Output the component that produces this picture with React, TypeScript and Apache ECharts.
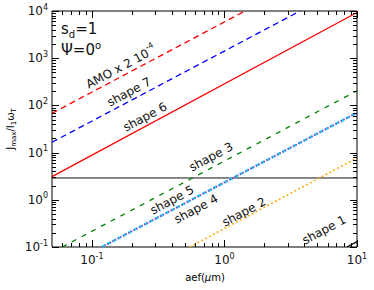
import React, { useEffect, useRef } from 'react';
import * as echarts from 'echarts';

// axis ranges
const X_MIN = 0.05;
const X_MAX = 10;
const Y_MIN = 0.1;
const Y_MAX = 10000;

// series values [aef (µm), Jmax/I1ωT]
const amoLine = [[0.05, 68], [1.43, 10000]];
const shape7Line = [[0.05, 16.6], [3.72, 10000]];
const shape6Line = [[0.05, 3.1], [10, 9300]];
const shape3Line = [[0.0596, 0.1], [10, 204]];
const shape5Line = [[0.1186, 0.1], [10, 70]];
const shape4Line = [[0.1186, 0.1], [10, 70]];
const shape2Line = [[0.546, 0.1], [10, 7.7]];
const shape1Line = [[8.4, 0.1], [10, 0.13]];
const refLevel = 2.9;
const refLine = [[X_MIN, refLevel], [X_MAX, refLevel]];

// decades for ticks
const xDecades = [0.01, 0.1, 1, 10];
const yDecades = [0.1, 1, 10, 100, 1000, 10000];
const minorMultipliers = [2, 3, 4, 5, 6, 7, 8, 9];

const FONT = 'DejaVu Sans';

function buildTicks() {
  const items: number[][] = [];
  const eps = 1e-9;
  xDecades.forEach((d) => {
    if (d >= X_MIN - eps && d <= X_MAX + eps) items.push([d, 1, 0, 1]);
    minorMultipliers.forEach((m) => {
      const v = d * m;
      if (v > X_MIN + eps && v < X_MAX - eps) items.push([v, 1, 0, 0]);
    });
  });
  yDecades.forEach((d) => {
    if (d >= Y_MIN - eps && d <= Y_MAX + eps) items.push([1, d, 1, 1]);
    minorMultipliers.forEach((m) => {
      const v = d * m;
      if (v > Y_MIN + eps && v < Y_MAX - eps) items.push([1, v, 1, 0]);
    });
  });
  return items;
}

const ANG = (28.2 * Math.PI) / 180;

function powLabel(value: number) {
  const e = Math.log10(value);
  const r = Math.round(e);
  if (Math.abs(e - r) > 1e-6) return '';
  return `{b|10}{s|${r}}`;
}

const tickRich = {
  b: { fontSize: 12, fontFamily: FONT, color: '#111', lineHeight: 16 },
  s: { fontSize: 8, fontFamily: FONT, color: '#111', verticalAlign: 'top', lineHeight: 16 },
};

function lineSeries(name: string, data: number[][], color: string, width: number, type: any, z = 2) {
  return {
    name,
    type: 'line',
    data,
    showSymbol: false,
    symbol: 'none',
    clip: true,
    z,
    lineStyle: { color, width, type },
  };
}

function rotText(text: string, x: number, y: number, rich?: any) {
  return {
    type: 'text',
    x,
    y,
    rotation: ANG,
    style: {
      text,
      fontSize: 12,
      fontFamily: FONT,
      fill: '#111',
      align: 'center',
      verticalAlign: 'middle',
      rich,
    },
  };
}

export default function App() {
  const ref = useRef<HTMLDivElement>(null);
  useEffect(() => {
    if (!ref.current) return;
    const chart = echarts.init(ref.current, undefined, { renderer: 'svg' });
    const option: any = {
      animation: false,
      backgroundColor: '#fff',
      grid: {
        left: 52,
        right: 17,
        top: 11,
        bottom: 43,
        show: true,
        borderColor: '#000',
        borderWidth: 1,
        backgroundColor: 'transparent',
      },
      xAxis: {
        type: 'log',
        logBase: 10,
        min: X_MIN,
        max: X_MAX,
        axisLine: { show: false },
        axisTick: { show: false },
        splitLine: { show: false },
        axisLabel: { formatter: powLabel, rich: tickRich, margin: 5, showMinLabel: true, showMaxLabel: true },
      },
      yAxis: {
        type: 'log',
        logBase: 10,
        min: Y_MIN,
        max: Y_MAX,
        axisLine: { show: false },
        axisTick: { show: false },
        splitLine: { show: false },
        axisLabel: { formatter: powLabel, rich: tickRich, margin: 4 },
      },
      series: [
        lineSeries('ref', refLine, '#111', 1, 'solid', 1),
        lineSeries('AMO x 2 10^-4', amoLine, '#ff0000', 1.3, [6, 4]),
        lineSeries('shape 7', shape7Line, '#0000ff', 1.3, [6, 4]),
        lineSeries('shape 6', shape6Line, '#ff0000', 1.3, 'solid'),
        lineSeries('shape 3', shape3Line, '#008000', 1.3, [5, 6]),
        lineSeries('shape 5', shape5Line, '#00e5ee', 2.5, [4, 2], 2),
        lineSeries('shape 4', shape4Line, '#cc22cc', 1.4, [1.5, 1.5], 3),
        lineSeries('shape 2', shape2Line, '#ffa500', 1.6, [1.8, 2.6]),
        lineSeries('shape 1', shape1Line, '#000000', 1.2, 'solid'),
        {
          type: 'custom',
          name: 'ticks',
          data: buildTicks(),
          clip: false,
          z: 5,
          silent: true,
          renderItem: (params: any, api: any) => {
            const cs = params.coordSys;
            const kind = api.value(2);
            const len = api.value(3) ? 7 : 4;
            const st = { stroke: '#000', lineWidth: 1 };
            if (kind === 0) {
              const px = Math.round(api.coord([api.value(0), Y_MIN])[0]) + 0.5;
              const b = cs.y + cs.height;
              return {
                type: 'group',
                children: [
                  { type: 'line', shape: { x1: px, y1: b, x2: px, y2: b - len }, style: st },
                  { type: 'line', shape: { x1: px, y1: cs.y, x2: px, y2: cs.y + len }, style: st },
                ],
              };
            }
            const py = Math.round(api.coord([X_MIN, api.value(1)])[1]) + 0.5;
            const r = cs.x + cs.width;
            return {
              type: 'group',
              children: [
                { type: 'line', shape: { x1: cs.x, y1: py, x2: cs.x + len, y2: py }, style: st },
                { type: 'line', shape: { x1: r, y1: py, x2: r - len, y2: py }, style: st },
              ],
            };
          },
        },
      ],
      graphic: [
        {
          type: 'text',
          x: 61,
          y: 29,
          style: {
            text: '{m|s}{sub|d}{m|=1}',
            fill: '#111',
            verticalAlign: 'middle',
            rich: {
              m: { fontSize: 15, fontFamily: FONT, fill: '#111', color: '#111', lineHeight: 20 },
              sub: { fontSize: 10, fontFamily: FONT, fill: '#111', color: '#111', verticalAlign: 'bottom', lineHeight: 20 },
            },
          },
        },
        {
          type: 'text',
          x: 61,
          y: 50,
          style: {
            text: '{m|Ψ=0}{sup|o}',
            fill: '#111',
            verticalAlign: 'middle',
            rich: {
              m: { fontSize: 15, fontFamily: FONT, color: '#111', lineHeight: 20 },
              sup: { fontSize: 10, fontFamily: FONT, color: '#111', verticalAlign: 'top', lineHeight: 20 },
            },
          },
        },
        rotText('{m|AMO x 2 10}{sup|-4}', 121, 67, {
          m: { fontSize: 12, fontFamily: FONT, color: '#111', lineHeight: 18 },
          sup: { fontSize: 8, fontFamily: FONT, color: '#111', verticalAlign: 'top', lineHeight: 18 },
        }),
        rotText('shape 7', 129, 92),
        rotText('shape 6', 145, 117),
        rotText('shape 3', 211, 157),
        rotText('shape 5', 172, 200),
        rotText('shape 4', 196, 209),
        rotText('shape 2', 244, 212),
        rotText('shape 1', 324, 230),
        {
          type: 'text',
          x: 10,
          y: 129,
          rotation: Math.PI / 2,
          style: {
            text: '{m|J}{sub|max}{m|/I}{sub|1}{m|ω}{sub|T}',
            align: 'center',
            verticalAlign: 'middle',
            rich: {
              m: { fontSize: 10, fontFamily: FONT, color: '#111', lineHeight: 14 },
              sub: { fontSize: 7, fontFamily: FONT, color: '#111', verticalAlign: 'bottom', lineHeight: 14 },
            },
          },
        },
        {
          type: 'text',
          x: 205,
          y: 277,
          style: {
            text: '{m|aef(}{i|μ}{m|m)}',
            align: 'center',
            verticalAlign: 'middle',
            rich: {
              m: { fontSize: 10, fontFamily: FONT, color: '#111' },
              i: { fontSize: 10, fontFamily: FONT, fontStyle: 'italic', color: '#111' },
            },
          },
        },
      ],
    };
    chart.setOption(option);
    return () => chart.dispose();
  }, []);
  return (
    <div
      ref={ref}
      style={{ position: 'fixed', left: 0, top: 0, width: 374, height: 290, background: '#fff' }}
    />
  );
}
